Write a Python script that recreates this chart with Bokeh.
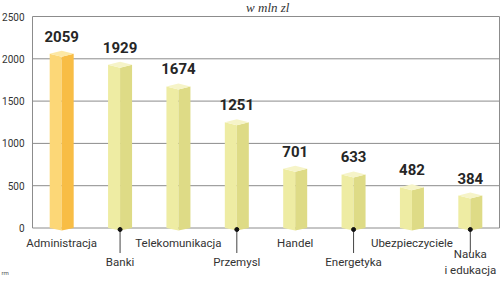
from bokeh.plotting import figure
from bokeh.models import Range1d
from bokeh.core.properties import value
from bokeh.embed import file_html
from bokeh.resources import INLINE

categories = ["Administracja", "Banki", "Telekomunikacja", "Przemysl", "Handel",
              "Energetyka", "Ubezpieczyciele", "Nauka\ni edukacja"]
values = [2059, 1929, 1674, 1251, 701, 633, 482, 384]
y_ticks = [0, 500, 1000, 1500, 2000, 2500]
title_text = "w mln zl"
credit_text = "rm"

W, H = 500, 281
LEFT, RIGHT_PAD = 32, 1
ZERO_PX, TOP_PX = 227.5, 16.0
k = (ZERO_PX - TOP_PX) / 2500.0           # px per data unit (y)
y_start = -(H - ZERO_PX) / k
y_end = 2500 + TOP_PX / k
n = len(categories)
px_x = (W - LEFT - RIGHT_PAD) / n          # px per category
x_start = -LEFT / px_x
x_end = n + RIGHT_PAD / px_x

p = figure(width=W, height=H, output_backend="svg", toolbar_location=None,
           x_range=Range1d(x_start, x_end), y_range=Range1d(y_start, y_end),
           x_axis_location=None, y_axis_location=None,
           min_border_left=0, min_border_right=0, min_border_top=0, min_border_bottom=0)
p.outline_line_color = None
p.background_fill_color = "white"
p.border_fill_color = "white"
p.xgrid.visible = False
p.ygrid.visible = False

# grid lines and frame sides
p.segment(x0=[0] * len(y_ticks), y0=y_ticks, x1=[n] * len(y_ticks), y1=y_ticks,
          line_color="#8c8c8c", line_width=1)
p.segment(x0=[0, n], y0=[0, 0], x1=[0, n], y1=[2500, 2500],
          line_color="#8c8c8c", line_width=1)

# y tick labels
p.text(x=[0] * len(y_ticks), y=y_ticks, text=[str(t) for t in y_ticks], x_offset=-8,
       text_font=value("Roboto"), text_font_size="10px", text_color="#333333",
       text_align="right", text_baseline="middle")

# 3D bars
hw = 12.0 / px_x      # half width in data units
dy = 3.0 / k          # cap depth
bot = 2.5 / k
lx, rx, tx = [], [], []
lc, rc, tc = [], [], []
for i, v in enumerate(values):
    c = i + 0.5
    lx.append(([c - hw, c - hw, c, c], [0, v, v - dy, -bot]))
    rx.append(([c, c, c + hw, c + hw], [-bot, v - dy, v, 0]))
    tx.append(([c - hw, c, c + hw, c], [v, v + dy, v, v - dy]))
    if i == 0:
        lc.append("#fcd777"); rc.append("#f8bd45"); tc.append("#fde8a4")
    else:
        lc.append("#eeeca3"); rc.append("#dedb86"); tc.append("#f6f4c8")
p.patches(xs=[a for a, b in lx], ys=[b for a, b in lx], fill_color=lc, line_color=None)
p.patches(xs=[a for a, b in rx], ys=[b for a, b in rx], fill_color=rc, line_color=None)
p.patches(xs=[a for a, b in tx], ys=[b for a, b in tx], fill_color=tc, line_color=None)

# value labels
xs = [i + 0.5 for i in range(n)]
p.text(x=xs, y=[v + 17.5 / k for v in values], text=[str(v) for v in values],
       text_font=value("Roboto"), text_font_style="bold", text_font_size="15px",
       text_color="#262626", text_align="center", text_baseline="middle")

# category labels (alternating rows)
up_x = [xs[i] for i in range(0, n, 2)]
up_t = [categories[i] for i in range(0, n, 2)]
lo_x = [xs[i] for i in range(1, n, 2)]
lo_t = [categories[i] for i in range(1, n, 2)]
p.text(x=up_x, y=[-15.0 / k] * len(up_x), text=up_t,
       text_font=value("Roboto"), text_font_size="11.5px", text_color="#333333",
       text_align="center", text_baseline="middle")
p.text(x=lo_x, y=[-34.0 / k] * len(lo_x), text=lo_t,
       text_font=value("Roboto"), text_font_size="11.5px", text_color="#333333",
       text_align="center", text_baseline="middle", text_line_height=1.2)
# leader lines and dots
p.segment(x0=lo_x, y0=[-1.5 / k] * len(lo_x), x1=lo_x, y1=[-25.0 / k] * len(lo_x),
          line_color="#444444", line_width=1)
p.scatter(x=lo_x, y=[-1.5 / k] * len(lo_x), size=4, color="#111111")

# title
p.text(x=[n / 2 + 0.03], y=[2500 + 9.5 / k], text=[title_text],
       text_font=value("Liberation Serif"), text_font_style="italic",
       text_font_size="13px", text_color="#333333", text_align="center",
       text_baseline="middle")

# credit
p.text(x=[x_start], y=[-44.5 / k], text=[credit_text], x_offset=1,
       text_font=value("Roboto"), text_font_size="6px", text_color="#555555",
       text_align="left", text_baseline="middle")

open("out.html", "w").write(file_html(p, INLINE))
